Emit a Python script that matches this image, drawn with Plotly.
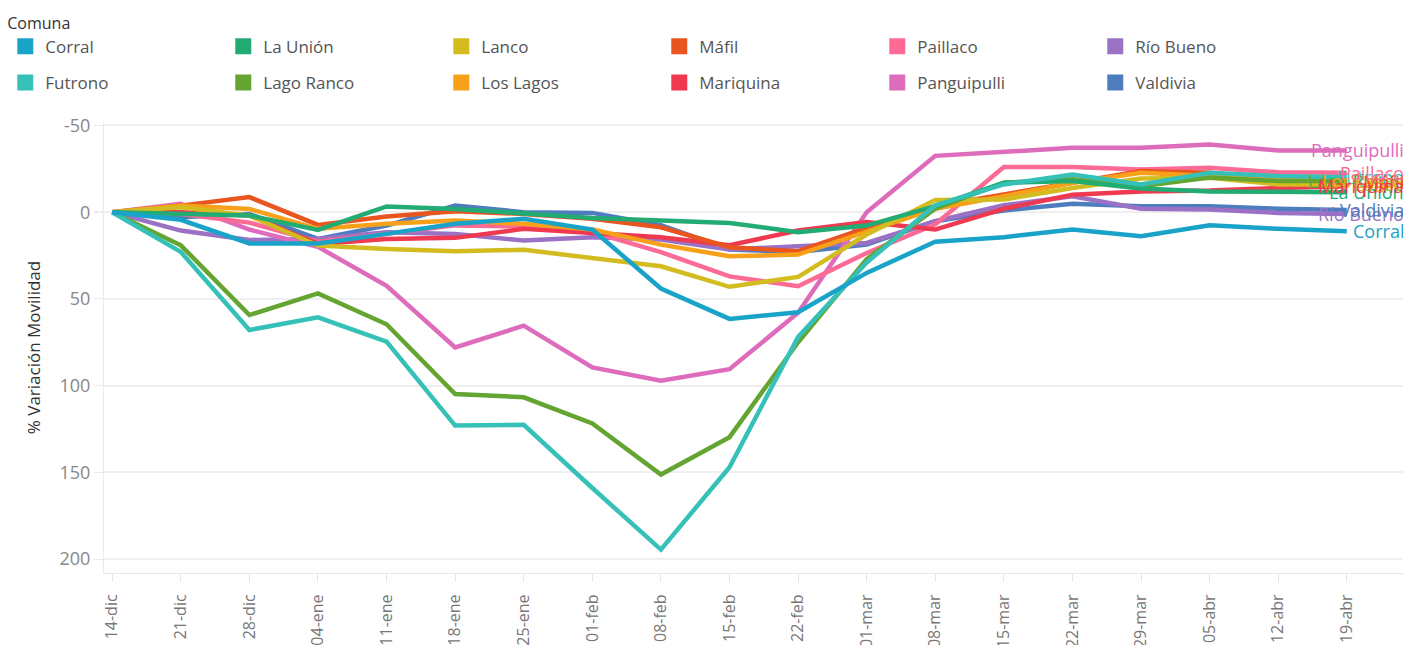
import plotly.graph_objects as go

dates = ["14-dic", "21-dic", "28-dic", "04-ene", "11-ene", "18-ene", "25-ene",
         "01-feb", "08-feb", "15-feb", "22-feb", "01-mar", "08-mar", "15-mar",
         "22-mar", "29-mar", "05-abr", "12-abr", "19-abr"]

comunas = ["Corral", "Futrono", "La Unión", "Lago Ranco", "Lanco", "Los Lagos",
           "Máfil", "Mariquina", "Paillaco", "Panguipulli", "Río Bueno", "Valdivia"]

colors = ["#1AA3C8", "#35C0B8", "#23AB74", "#64A532", "#D2BC20", "#F7A11A",
          "#E9551F", "#EE3950", "#FC6B95", "#DE6CBC", "#9B71C5", "#4D7DBE"]

corral = [0, 4.4, 18, 18, 12.5, 6.7, 3.8, 10, 44, 61.5, 57.7, 35, 17, 14.4, 10, 13.8, 7.5, 9.6, 11]
futrono = [0, 22.9, 67.9, 60.6, 74.6, 123, 122.6, 159, 194.5, 147, 72, 29, -4, -16, -21.7, -16, -22.7, -20.8, -20.2]
la_union = [0, 1, 1.9, 10.2, -3.3, -1.9, 1, 3.3, 4.8, 6.2, 11.5, 7.7, -3.5, -17, -18, -13.7, -12, -11.7, -11.5]
lago_ranco = [0, 19.1, 59.3, 46.8, 64.6, 104.8, 106.7, 121.8, 151.2, 129.7, 75, 27, -2, -17, -19, -15, -20, -18, -18]
lanco = [0, -2.9, 2, 19.2, 21.2, 22.5, 21.7, 26.7, 31.2, 43, 37.3, 12.9, -7, -7.3, -14, -19.4, -19.8, -16, -16]
los_lagos = [0, -3.8, -1.9, 9.6, 6.7, 4.8, 6.7, 10, 18.7, 25.4, 24.4, 11, -2, -9.2, -17, -22.7, -20.8, -19, -18]
mafil = [0, -3.8, -8.7, 7.3, 2.5, -0.6, 1, 3.8, 8.7, 20.2, 22.5, 9, -3.5, -10, -17, -23.7, -22.7, -18, -17.5]
mariquina = [0, 0, 1.9, 18.3, 15.4, 14.8, 9.6, 12, 14.4, 19, 10.6, 5.6, 10, -2, -10, -12, -12.5, -14, -15]
paillaco = [0, 1, 6, 17, 12.4, 7.6, 8.2, 11.5, 23, 37, 42.7, 23.5, 7, -26, -26, -24.6, -25.6, -23, -22.7]
panguipulli = [0, -4.8, 10, 20, 42.4, 78, 65.4, 89.5, 97.1, 90.5, 58, 0, -32.5, -34.8, -37.1, -37.1, -39, -35.6, -35.6]
rio_bueno = [0, 10.6, 16, 15.4, 11.5, 12.5, 16.3, 14.4, 15.8, 21.5, 19.6, 17.7, 5.2, -4, -9.2, -2, -1.5, 0.4, 1]
valdivia = [0, 2.9, 1, 15.4, 7.7, -3.8, 0, 0.4, 7.5, 21.5, 23, 18.7, 5.2, -1, -4.8, -3.5, -3.5, -2, -1.2]

series = [corral, futrono, la_union, lago_ranco, lanco, los_lagos,
          mafil, mariquina, paillaco, panguipulli, rio_bueno, valdivia]

legend_row1 = ["Corral", "La Unión", "Lanco", "Máfil", "Paillaco", "Río Bueno"]
legend_row2 = ["Futrono", "Lago Ranco", "Los Lagos", "Mariquina", "Panguipulli", "Valdivia"]

y_ticks = [-50, 0, 50, 100, 150, 200]
y_tick_labels = ["-50", "0", "50", "100", "150", "200"]

FONT = "Open Sans"
color_of = dict(zip(comunas, colors))
values_of = dict(zip(comunas, series))

fig = go.Figure()

# lines (drawn in reverse so the first comuna sits on top)
for name in reversed(comunas):
    fig.add_trace(go.Scatter(
        x=dates, y=values_of[name], mode="lines", name=name, legendgroup=name,
        showlegend=False, line=dict(color=color_of[name], width=4.5),
        hovertemplate="%{x}<br>" + name + ": %{y:.1f}%<extra></extra>",
    ))

# square legend swatches, two rows
for row, legend_id in ((legend_row1, "legend"), (legend_row2, "legend2")):
    for name in row:
        fig.add_trace(go.Scatter(
            x=[None], y=[None], mode="markers", name=name, legendgroup=name,
            legend=legend_id, showlegend=True, hoverinfo="skip",
            marker=dict(symbol="square", size=16, color=color_of[name]),
        ))

# end labels
for name in comunas:
    fig.add_annotation(
        x=1, xref="paper", xanchor="right", xshift=3,
        y=values_of[name][-1], yref="y", yanchor="middle",
        text=name, showarrow=False,
        font=dict(family=FONT, size=18, color=color_of[name]),
    )

# zero reference line
fig.add_shape(type="line", xref="paper", x0=-0.007, x1=1, yref="y", y0=0, y1=0,
              line=dict(color="#bdbdbd", width=1.5, dash="dot"), layer="below")

legend_common = dict(
    orientation="h", x=-0.076, xanchor="left", yanchor="top",
    entrywidth=173, entrywidthmode="pixels",
    font=dict(family=FONT, size=17, color="#555"),
    itemsizing="trace", bgcolor="rgba(0,0,0,0)",
)

fig.update_layout(
    width=1403, height=645,
    margin=dict(l=104, r=0, t=122, b=72),
    paper_bgcolor="white", plot_bgcolor="white",
    font=dict(family=FONT, color="#666"),
    showlegend=True,
    legend=dict(
        legend_common, y=1.2528,
        title=dict(text="Comuna", side="top", font=dict(family=FONT, size=16, color="#333")),
    ),
    legend2=dict(legend_common, y=1.1264),
    xaxis=dict(
        type="category", categoryorder="array", categoryarray=dates,
        range=[-0.12, 18.82], tickangle=-90, automargin=False,
        tickfont=dict(family=FONT, size=16, color="#777"),
        ticklabelstandoff=6,
        showgrid=False, zeroline=False,
        showline=True, linecolor="#e6e6e6", linewidth=1,
        ticks="outside", ticklen=8, tickcolor="#e6e6e6",
    ),
    yaxis=dict(
        range=[208, -52], tickvals=y_ticks, ticktext=y_tick_labels, automargin=False,
        tickfont=dict(family=FONT, size=18, color="#888"),
        showgrid=True, gridcolor="#efefef", gridwidth=1.5, zeroline=False,
        showline=True, linecolor="#ebebeb", linewidth=1,
        ticks="outside", ticklen=9, tickcolor="#ebebeb",
        title=dict(text="% Variación Movilidad", standoff=14,
                   font=dict(family=FONT, size=17, color="#333")),
    ),
    hovermode="closest",
)

fig.write_html(
    "out.html",
    config={"displayModeBar": False},
    post_script="document.body.style.margin='0';document.body.style.overflow='hidden';",
)
